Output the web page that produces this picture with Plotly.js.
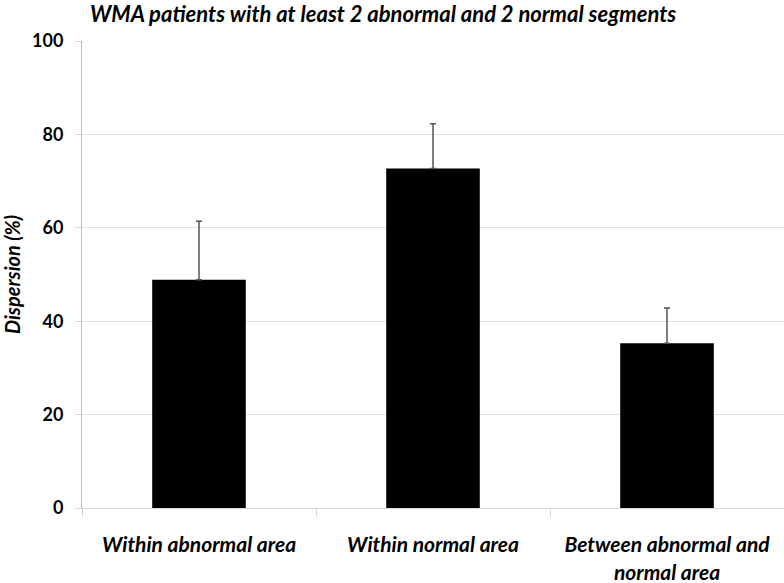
<!DOCTYPE html>
<html>
<head>
<meta charset="utf-8">
<script src="https://cdn.plot.ly/plotly-3.0.1.min.js"></script>
<style>body{margin:0;background:#fff}#chart{width:784px;height:583px}</style>
</head>
<body>
<div id="chart"></div>
<script>
// categories and values
var categories = ['Within abnormal area', 'Within normal area', 'Between abnormal and<br>normal area'];
var dispersion = [48.9, 72.7, 35.3];
var errorPlus = [12.5, 9.6, 7.5];

var fontFamily = 'Lato, "Open Sans", sans-serif';

var data = [
    {
        x: categories,
        y: dispersion,
        type: 'bar',
        width: 0.4,
        marker: { color: '#000000', line: { color: '#000000', width: 0 } },
        error_y: {
            type: 'data',
            symmetric: false,
            array: errorPlus,
            arrayminus: [0, 0, 0],
            color: '#555555',
            thickness: 1.5,
            width: 3
        },
        showlegend: false
    }
];

var layout = {
    width: 784,
    height: 583,
    margin: { l: 82, r: 0, t: 41, b: 75 },
    paper_bgcolor: '#ffffff',
    plot_bgcolor: '#ffffff',
    title: {
        text: 'WMA patients with at least 2 abnormal and 2 normal segments',
        x: 90 / 784,
        xanchor: 'left',
        xref: 'container',
        y: 1 - 14 / 583,
        yanchor: 'middle',
        yref: 'container',
        font: { family: fontFamily, size: 22, color: '#000', weight: 'bold', style: 'italic' }
    },
    xaxis: {
        type: 'category',
        tickson: 'boundaries',
        ticks: 'outside',
        ticklen: 8,
        tickcolor: '#d9d9d9',
        showline: true,
        linecolor: '#d9d9d9',
        showgrid: false,
        automargin: false,
        tickfont: { family: fontFamily, size: 21, color: '#000', weight: 'bold', style: 'italic' },
        ticklabelstandoff: 18
    },
    yaxis: {
        range: [0, 100],
        tickvals: [0, 20, 40, 60, 80, 100],
        ticks: 'outside',
        ticklen: 6,
        tickcolor: '#d9d9d9',
        showline: true,
        linecolor: '#bfbfbf',
        showgrid: true,
        gridcolor: '#e0e0e0',
        zeroline: false,
        automargin: false,
        tickfont: { family: fontFamily, size: 18, color: '#000', weight: 'bold' },
        ticklabelstandoff: 8,
        title: {
            text: 'Dispersion (%)',
            standoff: 12,
            font: { family: fontFamily, size: 20, color: '#000', weight: 'bold', style: 'italic' }
        }
    }
};

Plotly.newPlot('chart', data, layout, { displayModeBar: false, staticPlot: true });
</script>
</body>
</html>
